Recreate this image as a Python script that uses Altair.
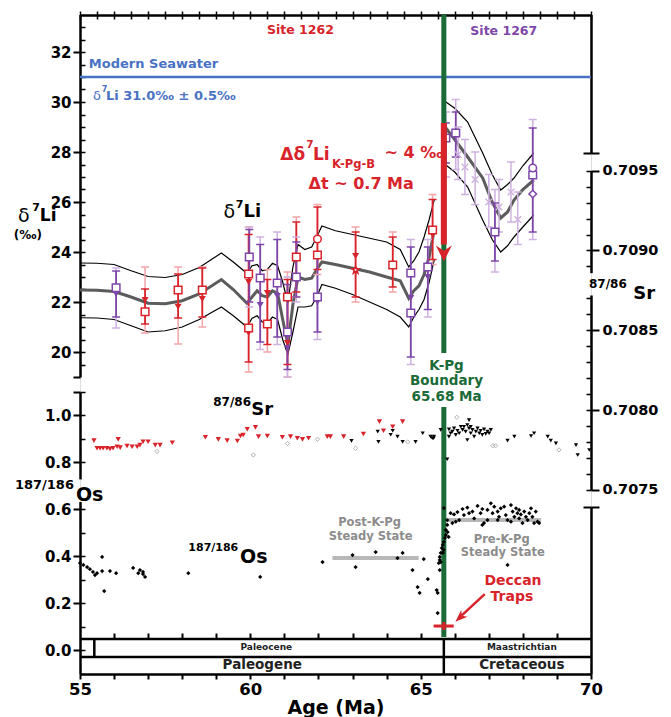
import altair as alt
import pandas as pd

# ======================= DATA =======================
# Site 1262 smoothed d7Li curve: mean and envelope
C1262_AGE = [55.0, 55.5, 56.0, 56.5, 57.0, 57.5, 58.0, 58.5, 59.15, 59.5, 59.9, 60.05, 60.2, 60.35,
             60.5, 60.65, 60.8, 60.95, 61.1, 61.25, 61.4, 61.6, 61.8, 61.95, 62.1, 62.5, 63.0, 63.5,
             64.0, 64.4, 64.65, 64.8, 64.95, 65.1, 65.25, 65.4]
C1262_MID = [22.48, 22.47, 22.42, 22.2, 21.95, 21.93, 22.05, 22.32, 22.9, 22.5, 21.95, 22.2, 22.45, 22.25,
             22.2, 22.45, 22.35, 21.3, 20.3, 21.9, 23.0, 22.9, 22.95, 23.3, 23.6, 23.5, 23.35, 23.2,
             23.0, 22.85, 22.15, 22.45, 22.65, 23.1, 23.8, 24.9]
C1262_UP = [23.56, 23.55, 23.5, 23.25, 23.02, 22.98, 23.1, 23.38, 23.96, 23.6, 23.15, 23.45, 23.5, 23.25,
            23.3, 23.55, 23.45, 22.8, 21.95, 23.4, 24.3, 24.1, 24.2, 24.6, 25.04, 24.85, 24.7, 24.55,
            24.4, 24.1, 23.4, 23.65, 24.0, 24.6, 25.3, 26.1]
C1262_LO = [21.37, 21.36, 21.3, 21.05, 20.8, 20.85, 21.0, 21.3, 21.8, 21.45, 21.0, 21.35, 21.45, 21.2,
            21.15, 21.4, 21.3, 20.5, 19.9, 20.8, 21.8, 21.8, 21.85, 22.2, 22.7, 22.55, 22.3, 22.0,
            21.7, 21.4, 21.0, 21.4, 21.7, 22.1, 22.8, 23.7]
# Site 1267 smoothed d7Li curve (Maastrichtian)
C1267_AGE = [65.74, 66.0, 66.38, 66.82, 67.1, 67.35, 67.55, 67.74, 68.0, 68.32]
C1267_MID = [28.96, 28.5, 27.8, 26.96, 26.0, 25.36, 25.6, 26.08, 26.5, 26.88]
C1267_UP = [30.0, 29.75, 29.2, 27.96, 27.1, 26.48, 26.7, 26.96, 27.45, 27.96]
C1267_LO = [27.48, 27.2, 26.6, 25.28, 24.5, 24.0, 24.25, 24.6, 25.0, 25.48]

# individual d7Li measurements
S1262_AGE = [56.91, 56.91, 57.88, 57.88, 58.59, 58.59, 59.95, 59.95, 59.95, 59.95, 60.5, 60.5,
             61.09, 61.09, 61.35, 61.97, 61.97, 63.09, 63.09, 64.18, 65.35, 65.35]
S1262_LI = [21.61, 22.08, 22.48, 21.81, 22.48, 22.12, 23.12, 22.8, 20.96, 20.76, 21.12, 22.36,
            22.2, 20.36, 23.8, 23.88, 24.52, 23.28, 23.84, 23.48, 24.88, 24.68]
S1262_MARK = ["sq", "tri", "sq", "tri", "sq", "tri", "sq", "tri", "sq", "tri", "sq", "tri",
              "sq", "tri", "sq", "sq", "circ", "star", "tri", "sq", "sq", "tri"]
S1267_AGE = [56.06, 56.06, 59.97, 60.29, 60.29, 60.79, 60.79, 61.09, 61.09, 61.35, 61.97, 61.97,
             64.71, 64.71, 64.71, 65.21, 65.21, 65.74, 66.03, 67.18, 68.29, 68.29, 68.29]
S1267_LI = [22.57, 22.32, 23.8, 22.96, 21.88, 22.76, 22.24, 20.8, 20.16, 23.0, 22.2, 22.0,
            23.16, 21.56, 22.16, 23.4, 23.0, 28.56, 28.76, 24.8, 27.08, 27.36, 26.32]
S1267_MARK = ["sq", "tri", "sq", "sq", "tri", "sq", "tri", "sq", "tri", "sq", "sq", "tri",
              "sq", "sq", "tri", "sq", "tri", "sq", "sq", "sq", "sq", "circ", "dia"]
# faint Site 1267 replicates
F1267_AGE = [66.1, 66.3, 66.6, 67.0, 67.3, 67.65, 67.85]
F1267_LI = [27.9, 27.4, 26.9, 26.0, 25.8, 26.4, 25.3]
F1267_LO = [26.9, 26.3, 25.9, 25.0, 24.8, 25.2, 24.3]
F1267_HI = [29.0, 28.5, 28.0, 27.1, 26.9, 27.6, 26.4]

# error bars (inner = dark, outer = light)
E1262_AGE = [56.91, 57.88, 58.59, 59.95, 60.5, 61.09, 61.35, 61.97, 63.09, 64.18, 65.35]
E1262_LO = [21.12, 21.36, 21.4, 19.6, 20.3, 19.5, 22.4, 23.3, 22.2, 22.6, 23.7]
E1262_HI = [22.52, 23.12, 23.36, 24.7, 22.9, 22.9, 25.2, 25.8, 24.8, 24.6, 26.1]
E1262_LO2 = [20.76, 20.32, 21.0, 19.2, 20.0, 19.0, 22.2, 23.1, 22.0, 22.4, 23.5]
E1262_HI2 = [23.4, 23.4, 23.4, 25.0, 23.3, 23.2, 25.4, 25.9, 25.0, 24.8, 26.3]
E1267_AGE = [56.06, 59.97, 60.29, 60.79, 61.09, 61.35, 61.97, 64.71, 65.21, 65.74, 66.03, 67.18, 68.29]
E1267_LO = [21.4, 22.0, 20.4, 20.6, 19.3, 22.2, 20.8, 19.8, 21.7, 27.56, 27.8, 23.64, 24.8]
E1267_HI = [23.24, 24.9, 24.3, 24.5, 22.7, 24.4, 23.8, 24.2, 24.2, 29.16, 29.6, 25.96, 28.96]
E1267_LO2 = [20.96, 21.8, 20.1, 20.3, 19.0, 22.0, 20.5, 19.5, 21.4, 27.0, 27.3, 23.2, 24.5]
E1267_HI2 = [23.36, 25.0, 24.6, 24.8, 23.0, 24.6, 24.0, 24.5, 24.5, 29.6, 30.1, 26.5, 29.3]

SEAWATER_LI = 31.0
KPG_AGE = 65.68
KPG_LI_DROP = [29.16, 24.3]   # arrow from / to (d7Li)

# 87/86Sr
SR_RED_AGE = [55.41, 55.50, 55.59, 55.68, 55.79, 55.88, 55.97, 56.09, 56.12, 56.18, 56.38, 56.53,
              56.68, 56.76, 56.85, 57.00, 57.21, 57.35, 57.71, 58.68, 59.06, 59.32, 59.62, 59.71,
              59.79, 59.91, 60.15, 60.24, 60.50, 60.94, 61.18, 61.38, 61.53, 61.71, 62.26, 62.35,
              62.74, 63.32, 63.79, 63.91, 64.18, 64.47]
SR_RED_VAL = [0.707808, 0.707760, 0.707760, 0.707760, 0.707760, 0.707755, 0.707760, 0.707770,
              0.707816, 0.707764, 0.707774, 0.707770, 0.707770, 0.707780, 0.707801, 0.707801,
              0.707780, 0.707780, 0.707795, 0.707829, 0.707816, 0.707808, 0.707806, 0.707837,
              0.707843, 0.707879, 0.707891, 0.707833, 0.707837, 0.707829, 0.707833, 0.707823,
              0.707816, 0.707823, 0.707833, 0.707833, 0.707833, 0.707850, 0.707927, 0.707870,
              0.707895, 0.707927]
SR_BLK_AGE = [62.97, 63.74, 63.76, 64.12, 64.18, 64.32, 64.47, 64.85, 65.06, 65.29, 65.38, 65.34,
              65.39, 65.59, 65.78, 65.83, 65.83, 65.88, 65.93, 65.98, 66.03, 66.08, 66.13, 66.18,
              66.23, 66.27, 66.32, 66.37, 66.37, 66.42, 66.42, 66.47, 66.47, 66.52, 66.57, 66.62,
              66.67, 66.72, 66.76, 66.81, 66.86, 66.91, 66.96, 67.01, 67.06, 67.55, 67.75, 68.24,
              68.33, 68.73, 68.82, 68.97, 69.56, 69.61, 69.95]
SR_BLK_VAL = [0.707806, 0.707864, 0.707800, 0.707845, 0.707870, 0.707833, 0.707800, 0.707800,
              0.707854, 0.707833, 0.707823, 0.707823, 0.707833, 0.707875, 0.707691, 0.707879,
              0.707833, 0.707854, 0.707864, 0.707885, 0.707844, 0.707870, 0.707854, 0.707895,
              0.707875, 0.707895, 0.707864, 0.707906, 0.707812, 0.707885, 0.707937, 0.707854,
              0.707895, 0.707875, 0.707833, 0.707864, 0.707885, 0.707854, 0.707870, 0.707844,
              0.707879, 0.707850, 0.707864, 0.707854, 0.707875, 0.707808, 0.707833, 0.707837,
              0.707854, 0.707833, 0.707808, 0.707791, 0.707780, 0.707718, 0.707749]
SR_GRY_AGE = [57.26, 60.09, 61.09, 61.97, 63.09, 64.62, 66.06, 67.12, 67.20, 69.06]
SR_GRY_VAL = [0.707740, 0.707718, 0.707790, 0.707817, 0.707760, 0.707800, 0.707954, 0.707776,
              0.707776, 0.707750]

# 187/186Os
OS_AGE = [55.00, 55.10, 55.21, 55.29, 55.38, 55.44, 55.50, 55.65, 55.65, 55.71, 55.88, 56.06,
          56.56, 56.71, 56.76, 56.85, 56.91, 56.85, 58.18, 60.29, 62.12, 63.00, 63.09, 63.68,
          64.32, 64.47, 64.76, 64.91, 64.97, 65.09, 65.21, 65.47, 65.50, 65.50, 65.56,
          65.53, 65.56, 65.59, 65.62, 65.65, 65.68, 65.71, 65.74, 65.79, 65.82, 65.56, 65.59,
          65.65, 65.68, 65.74, 65.68,
          65.78, 65.88, 65.98, 66.08, 66.13, 66.23, 66.27, 66.37, 66.42, 66.52, 66.57, 66.67,
          66.76, 66.81, 66.86, 66.96, 67.06, 67.11, 67.16, 67.26, 67.30, 67.35, 67.45, 67.50,
          67.55, 67.65, 67.70, 67.75, 67.80, 67.84, 67.89, 67.94, 67.99, 68.04, 68.14, 68.24,
          68.28, 68.33, 68.38, 68.43, 68.48, 65.78, 65.93, 66.03, 66.81, 66.96, 67.26, 67.65,
          67.89, 68.09, 68.19, 67.55]
OS_VAL = [0.370, 0.362, 0.353, 0.344, 0.332, 0.319, 0.327, 0.396, 0.336, 0.251, 0.336, 0.327,
          0.349, 0.327, 0.340, 0.332, 0.311, 0.323, 0.327, 0.311, 0.374, 0.404, 0.353, 0.417,
          0.391, 0.413, 0.340, 0.268, 0.243, 0.387, 0.302, 0.255, 0.243, 0.157, 0.340,
          0.370, 0.396, 0.413, 0.434, 0.447, 0.460, 0.477, 0.489, 0.502, 0.481, 0.383, 0.374,
          0.413, 0.426, 0.511, 0.604,
          0.553, 0.582, 0.577, 0.587, 0.553, 0.600, 0.574, 0.606, 0.582, 0.589, 0.560, 0.613,
          0.582, 0.600, 0.540, 0.596, 0.624, 0.582, 0.610, 0.589, 0.567, 0.603, 0.610, 0.574,
          0.553, 0.617, 0.589, 0.567, 0.603, 0.582, 0.560, 0.577, 0.540, 0.589, 0.553, 0.603,
          0.567, 0.540, 0.589, 0.546, 0.540, 0.532, 0.540, 0.546, 0.532, 0.553, 0.553, 0.546,
          0.596, 0.567, 0.582, 0.362]
# steady-state levels of 187/186Os
STEADY_NAME = ["post", "pre"]
STEADY_FROM = [62.41, 65.79]
STEADY_TO = [64.94, 68.53]
STEADY_OS = [0.391, 0.553]
# Deccan traps timing
DECCAN_AGE = [65.38, 65.97]
DECCAN_OS = 0.102
# geologic timescale
EPOCH_BOUNDS = [55.42, 65.68]

for a, b in [(C1262_AGE, C1262_MID), (C1262_AGE, C1262_UP), (C1262_AGE, C1262_LO),
             (S1262_AGE, S1262_LI), (S1262_AGE, S1262_MARK), (S1267_AGE, S1267_LI),
             (S1267_AGE, S1267_MARK), (SR_RED_AGE, SR_RED_VAL), (SR_BLK_AGE, SR_BLK_VAL),
             (OS_AGE, OS_VAL), (E1267_AGE, E1267_HI2), (E1262_AGE, E1262_HI2)]:
    assert len(a) == len(b), (len(a), len(b))

# ======================= STYLE / LAYOUT =======================
FONT = "DejaVu Sans"
RED, PURPLE, GREEN, BLUE = "#d9232b", "#7e46a8", "#1b6b38", "#4a72c4"
LRED, LPURPLE = "#f3a5a8", "#cfb1e0"
GRAY_T, GRAY_BAR = "#8c8c8c", "#b8b8b8"
W, H = 511, 659

def li_px(v): return 37 + (32 - v) * 25          # plot-y of a d7Li value
def os_px(v): return 635 - 235 * v               # plot-y of an Os value
def sr_px(v): return 395 - (v - 0.708) * 159500  # plot-y of an Sr value

def sc(lo, hi, f):
    return alt.Scale(domain=[lo, hi], range=[f(lo), f(hi)], nice=False, zero=False)

XS = alt.Scale(domain=[55, 70], nice=False, zero=False)
LI = sc(19, 33.5, li_px)
LI_TR = sc(27.96, 33.5, li_px)
OS = sc(-0.102, 1.1, os_px)
OS_LO = sc(-0.102, 0.632, os_px)
OS_UP = sc(0.728, 1.098, os_px)
OS_BR = sc(-0.102, 0.6085, os_px)
SR = sc(0.7075, 0.7095, sr_px)
SR_UP = sc(0.708861, 0.7095, sr_px)
SR_LO = sc(0.7075, 0.708721, sr_px)
TS_TOP, TS_MID, TS_BOT = 0.0468, -0.0298, -0.102


def axis(orient, values, size, offset=0, domain=False, labels=False, tw=2.0, **kw):
    d = dict(orient=orient, values=values, tickSize=size, offset=offset, domain=domain,
             domainColor="black", domainWidth=2.5, ticks=True, tickColor="black",
             tickWidth=tw, grid=False, labels=labels, labelFont=FONT,
             labelFontWeight="bold", labelColor="black", labelFontSize=15)
    d.update(kw)
    return alt.Axis(**d)

X_BOTTOM = axis("bottom", list(range(55, 71)), 5, domain=True, labels=True,
                labelExpr="datum.value % 5 == 0 ? datum.label : ''", labelFontSize=16.5,
                labelFlush=False, labelOverlap=False, labelPadding=2, titleFont=FONT,
                titleFontSize=19, titleFontWeight="bold", titleColor="black", titlePadding=1)
X_TOP = axis("top", [55 + 0.5 * i for i in range(31)], 4, domain=True, tw=1.5)
X_TOP_IN = axis("top", [55 + 0.5 * i for i in range(31)], 4, offset=-4, tw=1.5)
X_BOX = axis("bottom", list(range(56, 70)), 6, offset=-41, tw=2)

Y_LI = axis("left", [19, 20, 22, 24, 26, 28, 30, 32], 7, domain=True, labels=True,
            labelExpr="datum.value == 19 ? '' : datum.label", labelPadding=2)
Y_LI_IN = axis("left", [x / 2 for x in range(39, 67)], 5, offset=-5, tw=1.5)
Y_LI_TR = axis("right", [27.96], 8, domain=True)
Y_LI_TR_IN = axis("right", [27.96], 8, offset=-8)
Y_OS_LO = axis("left", [0.0, 0.2, 0.4, 0.6], 7, domain=True, labels=True, format=".1f",
               labelPadding=2)
Y_OS_UP = axis("left", [0.8, 1.0, 1.098], 7, domain=True, labels=True, format=".1f",
               labelExpr="datum.value > 1.05 ? '' : datum.label", labelPadding=2)
Y_OS_IN = axis("left", [0.0, 0.1, 0.2, 0.3, 0.4, 0.5, 0.6, 0.8, 0.9, 1.0, 1.098], 5,
               offset=-5, tw=1.5)
Y_OS_BR = axis("right", [0.6085], 8, domain=True)
Y_OS_BR_IN = axis("right", [0.6085], 8, offset=-8)
Y_SR_LO = axis("right", [0.7075, 0.708, 0.7085], 8, domain=True, labels=True,
               format=".4f", labelPadding=3, labelFontSize=14.5)
Y_SR_UP = axis("right", [0.709, 0.7095], 8, domain=True, labels=True,
               format=".4f", labelPadding=3, labelFontSize=14.5)
Y_SR_IN = axis("right", [round(0.7075 + 0.0001 * i, 4) for i in range(21) if i != 13], 5,
               offset=-5, tw=1.5)


def X(field, ax=None, title=None):
    return alt.X(field, type="quantitative", scale=XS, axis=ax, title=title)

def Y(field, scale, ax=None):
    return alt.Y(field, type="quantitative", scale=scale, axis=ax, title=None)

# ======================= LAYERS =======================
layers = []

# geologic timescale box
ts_h = pd.DataFrame({"a": [55, 55], "b": [70, 70], "y": [TS_TOP, TS_MID]})
layers.append(alt.Chart(ts_h).mark_rule(color="black", strokeWidth=2.5).encode(
    x=X("a", X_BOTTOM, title="Age (Ma)"), x2="b", y=Y("y", OS_LO, Y_OS_LO)))
ts_v = pd.DataFrame({"a": EPOCH_BOUNDS, "y": [TS_TOP, TS_TOP], "y2": [TS_MID, TS_BOT]})
layers.append(alt.Chart(ts_v).mark_rule(color="black", strokeWidth=2.5).encode(
    x=X("a", X_BOX), y=Y("y", OS, Y_OS_IN), y2="y2"))


def texts(rows, scale, align="left", weight="bold", xax=None, yax=None):
    df = pd.DataFrame(rows, columns=["t", "x", "y", "s", "c"])
    return alt.Chart(df).mark_text(align=align, baseline="middle", font=FONT,
                                   fontWeight=weight).encode(
        x=X("x", xax), y=Y("y", scale, yax), text="t:N",
        size=alt.Size("s:Q", scale=None), color=alt.Color("c:N", scale=None))

layers.append(texts([
    ("Paleocene", 60.47, 0.0128, 9, "#222222"),
    ("Maastrichtian", 67.97, 0.0128, 9, "#222222"),
    ("Paleogene", 60.35, -0.063, 13.5, "#222222"),
    ("Cretaceous", 67.97, -0.063, 13.5, "#222222"),
], OS_BR, align="center", xax=X_TOP, yax=Y_OS_BR))

# steady-state bars
st = pd.DataFrame({"n": STEADY_NAME, "a": STEADY_FROM, "b": STEADY_TO, "y": STEADY_OS})
layers.append(alt.Chart(st).mark_rule(color=GRAY_BAR, strokeWidth=4).encode(
    x=X("a", X_TOP_IN), x2="b", y=Y("y", OS_UP, Y_OS_UP)))

# modern seawater
sw = pd.DataFrame({"a": [55], "b": [70], "y": [SEAWATER_LI]})
layers.append(alt.Chart(sw).mark_rule(color=BLUE, strokeWidth=2.5).encode(
    x=X("a"), x2="b", y=Y("y", LI_TR, Y_LI_TR)))

# smoothed curves
def curve(ages, vals, key):
    return pd.DataFrame({"age": ages, "li": vals, "k": key})
env = pd.concat([curve(C1262_AGE, C1262_UP, "a"), curve(C1262_AGE, C1262_LO, "b"),
                 curve(C1267_AGE, C1267_UP, "c"), curve(C1267_AGE, C1267_LO, "d")])
mid = pd.concat([curve(C1262_AGE, C1262_MID, "a"), curve(C1267_AGE, C1267_MID, "b")])
layers.append(alt.Chart(env).mark_line(color="black", strokeWidth=1.2).encode(
    x=X("age"), y=Y("li", LI), detail="k:N"))
layers.append(alt.Chart(mid).mark_line(color="#5c5c5c", strokeWidth=3).encode(
    x=X("age"), y=Y("li", LI), detail="k:N"))

# error bars
def err(ages, lo, hi, c):
    return pd.DataFrame({"age": ages, "lo": lo, "hi": hi, "c": c})
light = pd.concat([err(E1262_AGE, E1262_LO2, E1262_HI2, LRED),
                   err(E1267_AGE, E1267_LO2, E1267_HI2, LPURPLE),
                   err(F1267_AGE, F1267_LO, F1267_HI, LPURPLE)])
dark = pd.concat([err(E1262_AGE, E1262_LO, E1262_HI, RED),
                  err(E1267_AGE, E1267_LO, E1267_HI, PURPLE)])
layers.append(alt.Chart(light).mark_rule(strokeWidth=1.5).encode(
    x=X("age"), y=Y("lo", LI, Y_LI), y2="hi", color=alt.Color("c:N", scale=None)))
layers.append(alt.Chart(dark).mark_rule(strokeWidth=1.8).encode(
    x=X("age"), y=Y("lo", LI, Y_LI_IN), y2="hi", color=alt.Color("c:N", scale=None)))
caps = pd.concat([light.melt(id_vars=["age", "c"], value_vars=["lo", "hi"], value_name="li"),
                  dark.melt(id_vars=["age", "c"], value_vars=["lo", "hi"], value_name="li")])
layers.append(alt.Chart(caps).mark_tick(orient="horizontal", size=8, thickness=1.5,
                                        opacity=1).encode(
    x=X("age"), y=Y("li", LI_TR, Y_LI_TR_IN), color=alt.Color("c:N", scale=None)))

# markers
STAR = ("M0,-1L0.235,-0.324L0.951,-0.309L0.38,0.124L0.588,0.809L0,0.4L-0.588,0.809"
        "L-0.38,0.124L-0.951,-0.309L-0.235,-0.324Z")
SHAPES = {"sq": "square", "circ": "circle", "dia": "diamond", "star": STAR}
smp = pd.concat([pd.DataFrame({"age": S1262_AGE, "li": S1262_LI, "m": S1262_MARK, "c": RED}),
                 pd.DataFrame({"age": S1267_AGE, "li": S1267_LI, "m": S1267_MARK, "c": PURPLE})])
opn = smp[smp.m != "tri"].copy()
opn["shp"] = opn.m.map(SHAPES)
tri = smp[smp.m == "tri"]
faint = pd.DataFrame({"age": F1267_AGE, "li": F1267_LI})
layers.append(alt.Chart(faint).mark_point(shape="M-1,-1L1,1M-1,1L1,-1", filled=False, size=45,
                                          strokeWidth=1.4, color=LPURPLE, opacity=1).encode(
    x=X("age"), y=Y("li", LI)))
layers.append(alt.Chart(tri).mark_point(shape="triangle-down", filled=True, size=50,
                                        opacity=1).encode(
    x=X("age"), y=Y("li", LI), color=alt.Color("c:N", scale=None)))
layers.append(alt.Chart(opn).mark_point(filled=False, fill="white", size=58, strokeWidth=1.5,
                                        opacity=1).encode(
    x=X("age"), y=Y("li", LI), shape=alt.Shape("shp:N", scale=None),
    color=alt.Color("c:N", scale=None)))

# K-Pg boundary (green) with gap for its label
kg1 = pd.DataFrame({"a": [KPG_AGE], "y": [33.5], "y2": [19.96]})
kg2 = pd.DataFrame({"a": [KPG_AGE], "y": [1.034], "y2": [0.055]})
layers.append(alt.Chart(kg1).mark_rule(color=GREEN, strokeWidth=5).encode(
    x=X("a"), y=Y("y", LI), y2="y2"))
layers.append(alt.Chart(kg2).mark_rule(color=GREEN, strokeWidth=5).encode(
    x=X("a"), y=Y("y", OS), y2="y2"))

# red drop arrow
arr = pd.DataFrame({"a": [KPG_AGE], "y": [KPG_LI_DROP[0]], "y2": [KPG_LI_DROP[1]]})
layers.append(alt.Chart(arr).mark_rule(color=RED, strokeWidth=6).encode(
    x=X("a"), y=Y("y", LI), y2="y2"))
head = pd.DataFrame({"a": [KPG_AGE], "y": [KPG_LI_DROP[1] - 0.36]})
layers.append(alt.Chart(head).mark_point(shape="M0,1L1,-1L0,-0.35L-1,-1Z", filled=True, size=256,
                                         color=RED, opacity=1).encode(
    x=X("a"), y=Y("y", LI)))

# Sr
srb = pd.DataFrame({"age": SR_BLK_AGE, "sr": SR_BLK_VAL})
srr = pd.DataFrame({"age": SR_RED_AGE, "sr": SR_RED_VAL})
srg = pd.DataFrame({"age": SR_GRY_AGE, "sr": SR_GRY_VAL})
layers.append(alt.Chart(srg).mark_point(shape="diamond", filled=False, size=18, strokeWidth=1,
                                        color="#b0b0b0", opacity=1).encode(
    x=X("age"), y=Y("sr", SR_UP, Y_SR_UP)))
layers.append(alt.Chart(srb).mark_point(shape="triangle-down", filled=True, size=18,
                                        color="black", opacity=1).encode(
    x=X("age"), y=Y("sr", SR_LO, Y_SR_LO)))
layers.append(alt.Chart(srr).mark_point(shape="triangle-down", filled=True, size=28,
                                        color=RED, opacity=1).encode(
    x=X("age"), y=Y("sr", SR, Y_SR_IN)))

# Os
osd = pd.DataFrame({"age": OS_AGE, "os": OS_VAL})
layers.append(alt.Chart(osd).mark_point(shape="diamond", filled=True, size=18, color="black",
                                        opacity=1).encode(
    x=X("age"), y=Y("os", OS, Y_OS_BR_IN)))

# Deccan traps marker and pointer
dc = pd.DataFrame({"a": [DECCAN_AGE[0]], "b": [DECCAN_AGE[1]], "y": [DECCAN_OS]})
layers.append(alt.Chart(dc).mark_rule(color=RED, strokeWidth=3).encode(
    x=X("a"), x2="b", y=Y("y", OS)))
dcv = pd.DataFrame({"a": [KPG_AGE], "y": [DECCAN_OS + 0.017], "y2": [DECCAN_OS - 0.017]})
layers.append(alt.Chart(dcv).mark_rule(color=RED, strokeWidth=3).encode(
    x=X("a"), y=Y("y", OS), y2="y2"))
pt = pd.DataFrame({"a": [66.88], "b": [66.2], "y": [0.238], "y2": [0.146]})
layers.append(alt.Chart(pt).mark_rule(color=RED, strokeWidth=2.5).encode(
    x=X("a"), x2="b", y=Y("y", OS), y2="y2"))
pth = pd.DataFrame({"a": [66.15], "y": [0.138]})
layers.append(alt.Chart(pth).mark_point(shape="M0,-1L0.75,1L0,0.45L-0.75,1Z", filled=True,
                                        size=150, angle=227, color=RED, opacity=1).encode(
    x=X("a"), y=Y("y", OS)))

# ---------- text annotations ----------
K = "black"
layers.append(texts([
    ("Modern Seawater", 55.26, 31.54, 13, BLUE),
    ("Li 31.0‰ ± 0.5‰", 55.76, 30.26, 13, BLUE),
    ("7", 55.64, 30.5, 8, BLUE),
    ("7", 53.6, 25.78, 11, K),
    ("Li", 53.82, 25.46, 17, K),
    ("7", 59.57, 25.88, 11, K),
    ("Li", 59.8, 25.6, 18, K),
    ("Δδ", 60.88, 27.88, 17, RED),
    ("7", 61.64, 28.3, 10.5, RED),
    ("Li", 61.84, 27.88, 17, RED),
    ("K-Pg-B", 62.4, 27.48, 11.5, RED),
    ("~ 4 ‰", 63.94, 27.96, 16, RED),
    ("Δt ~ 0.7 Ma", 61.71, 26.72, 16, RED),
    ("87/86", 69.94, 22.72, 12, K),
    ("Sr", 71.24, 22.32, 18, K),
], LI))
layers.append(texts([
    ("δ", 55.38, 30.26, 13, BLUE),
    ("δ", 53.18, 25.46, 19, K),
    ("δ", 59.21, 25.6, 19, K),
], LI, weight="normal"))
layers.append(texts([
    ("Site 1262", 61.47, 32.88, 12.5, RED),
    ("Site 1267", 67.44, 32.84, 12.5, PURPLE),
    ("(‰)", 53.47, 24.68, 12, K),
], LI, align="center"))
layers.append(texts([
    ("87/86", 58.91, 1.055, 12, K),
    ("Sr", 60.03, 1.021, 18, K),
    ("187/186", 53.09, 0.702, 13, K),
    ("Os", 54.88, 0.66, 19, K),
    ("187/186", 58.18, 0.434, 11, K),
    ("Os", 59.7, 0.396, 19, K),
], OS))
layers.append(texts([
    ("K-Pg", 65.76, 1.209, 13.5, GREEN),
    ("Boundary", 65.76, 1.145, 13.5, GREEN),
    ("65.68 Ma", 65.76, 1.077, 13.5, GREEN),
    ("Post-K-Pg", 63.5, 0.54, 11.5, GRAY_T),
    ("Steady State", 63.53, 0.481, 11.5, GRAY_T),
    ("Pre-K-Pg", 67.38, 0.468, 11.5, GRAY_T),
    ("Steady State", 67.41, 0.413, 11.5, GRAY_T),
    ("Deccan", 67.71, 0.294, 14, RED),
    ("Traps", 67.68, 0.226, 14, RED),
], OS, align="center"))

chart = alt.layer(*layers).resolve_scale(y="independent").resolve_axis(
    x="independent", y="independent").properties(
    width=W, height=H,
    padding={"left": 72, "top": 7, "right": 72, "bottom": 43},
    autosize=alt.AutoSizeParams(type="none"),
).configure_view(stroke=None).configure(font=FONT)

chart.save("out.html", embed_options={"renderer": "svg", "actions": False})
